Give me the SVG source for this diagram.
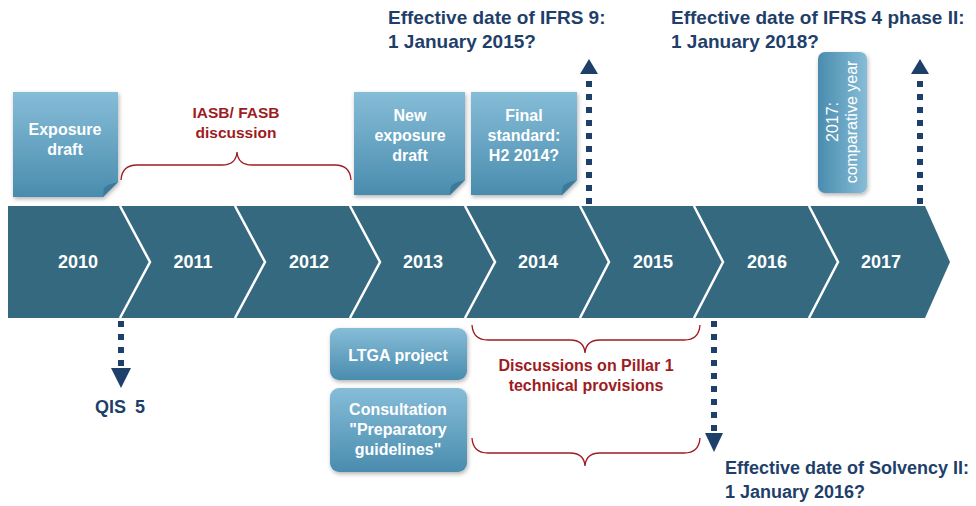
<svg xmlns="http://www.w3.org/2000/svg" width="976" height="506" viewBox="0 0 976 506">
<defs>
<linearGradient id="boxg" x1="0" y1="0" x2="0" y2="1">
<stop offset="0" stop-color="#86bdd8"/>
<stop offset="1" stop-color="#4a8cae"/>
</linearGradient>
<linearGradient id="boxr" x1="0" y1="0" x2="1" y2="0">
<stop offset="0" stop-color="#4a8cae"/>
<stop offset="1" stop-color="#86bdd8"/>
</linearGradient>
<filter id="sh" x="-10%" y="-10%" width="130%" height="130%">
<feDropShadow dx="1" dy="2" stdDeviation="2" flood-color="#000" flood-opacity="0.3"/>
</filter>
</defs>
<style>
.yr{font-family:"Liberation Sans",Arial,sans-serif;font-weight:bold;font-size:18px;fill:#fff;text-anchor:middle}
.bx{font-family:"Liberation Sans",Arial,sans-serif;font-weight:bold;font-size:16px;fill:#fff;text-anchor:middle}
.red{font-family:"Liberation Sans",Arial,sans-serif;font-weight:bold;font-size:15.5px;fill:#9e1b22;text-anchor:middle}
.nav{font-family:"Liberation Sans",Arial,sans-serif;font-weight:bold;font-size:19px;fill:#1f3f6b}
.brace{fill:none;stroke:#9e1b22;stroke-width:1.3}
.dots{fill:none;stroke:#1f3f6b;stroke-width:6;stroke-dasharray:6 7}
.sep{fill:none;stroke:#fff;stroke-width:2.5}
</style>

<g id="timeline">
<polygon points="8,206 925,206 950,262 925,318 8,318" fill="#35697f"/>
<polyline class="sep" points="120,206 150,262 120,318"/>
<polyline class="sep" points="235,206 265,262 235,318"/>
<polyline class="sep" points="350,206 380,262 350,318"/>
<polyline class="sep" points="465,206 495,262 465,318"/>
<polyline class="sep" points="580,206 609,262 580,318"/>
<polyline class="sep" points="694,206 723,262 694,318"/>
<polyline class="sep" points="809,206 838,262 809,318"/>
<text class="yr" x="78" y="268">2010</text>
<text class="yr" x="193" y="268">2011</text>
<text class="yr" x="309" y="268">2012</text>
<text class="yr" x="423" y="268">2013</text>
<text class="yr" x="538" y="268">2014</text>
<text class="yr" x="653" y="268">2015</text>
<text class="yr" x="767" y="268">2016</text>
<text class="yr" x="881" y="268">2017</text>
</g>

<g id="exposure-draft">
<path d="M13,92 H118 V182 L103,197 H13 Z" fill="url(#boxg)" filter="url(#sh)"/>
<path d="M103,197 L118,182 Q108,184 104,188 Q103,192 103,197 Z" fill="#3d7a9a"/>
<text class="bx" x="65" y="135">Exposure</text>
<text class="bx" x="65" y="155">draft</text>
</g>

<g id="iasb-fasb">
<text class="red" x="236" y="118">IASB/ FASB</text>
<text class="red" x="236" y="138">discussion</text>
</g>

<g id="new-exposure-draft">
<path d="M354,92 H465 V180 L450,195 H354 Z" fill="url(#boxg)" filter="url(#sh)"/>
<path d="M450,195 L465,180 Q455,182 451,186 Q450,190 450,195 Z" fill="#3d7a9a"/>
<text class="bx" x="410" y="121">New</text>
<text class="bx" x="410" y="141">exposure</text>
<text class="bx" x="410" y="161">draft</text>
</g>

<g id="final-standard">
<path d="M471,92 H577 V180 L562,195 H471 Z" fill="url(#boxg)" filter="url(#sh)"/>
<path d="M562,195 L577,180 Q567,182 563,186 Q562,190 562,195 Z" fill="#3d7a9a"/>
<text class="bx" x="524" y="121">Final</text>
<text class="bx" x="524" y="141">standard:</text>
<text class="bx" x="524" y="161">H2 2014?</text>
</g>

<g id="ifrs9">
<text class="nav" x="388" y="24">Effective date of IFRS 9:</text>
<text class="nav" x="388" y="48">1 January 2015?</text>
</g>

<g id="ifrs4">
<text class="nav" x="671" y="24">Effective date of IFRS 4 phase II:</text>
<text class="nav" x="671" y="48">1 January 2018?</text>
</g>

<g id="comparative-year">
<rect x="818" y="52" width="49" height="141" rx="7" fill="url(#boxr)" filter="url(#sh)"/>
<text font-family="Liberation Sans,Arial,sans-serif" font-size="16" fill="#fff" text-anchor="middle" transform="translate(842,122) rotate(-90)"><tspan x="0" y="-4">2017:</tspan><tspan x="0" y="15">comparative year</tspan></text>
</g>

<g id="qis5">
<text class="nav" x="120" y="413" style="text-anchor:middle;font-size:18px;word-spacing:4px">QIS 5</text>
</g>

<g id="ltga">
<rect x="330" y="328" width="137" height="52" rx="9" fill="url(#boxg)" filter="url(#sh)"/>
<text class="bx" x="398" y="361">LTGA project</text>
</g>

<g id="consultation">
<rect x="330" y="388" width="137" height="84" rx="9" fill="url(#boxg)" filter="url(#sh)"/>
<text class="bx" x="398" y="415">Consultation</text>
<text class="bx" x="398" y="435">"Preparatory</text>
<text class="bx" x="398" y="455">guidelines"</text>
</g>

<g id="pillar1">
<text class="red" x="586" y="371" style="font-size:16px">Discussions on Pillar 1</text>
<text class="red" x="586" y="391" style="font-size:16px">technical provisions</text>
</g>

<g id="solvency">
<text class="nav" x="725" y="474" style="font-size:18px">Effective date of Solvency II:</text>
<text class="nav" x="725" y="498" style="font-size:18px">1 January 2016?</text>
</g>

<g id="connectors">
<path class="brace" d="M121,180 Q122,165 137,165 H222 Q236,165 237,152 Q238,165 252,165 H335 Q350,165 351,180"/>
<path class="brace" d="M472,325 Q473,340 488,340 H570 Q584,340 585,353 Q586,340 600,340 H684 Q699,340 700,325"/>
<path class="brace" d="M472,438 Q473,453 488,453 H570 Q584,453 585,466 Q586,453 600,453 H684 Q699,453 700,438"/>
<line class="dots" x1="589" y1="204" x2="589" y2="74"/>
<polygon points="589,59 580,74 598,74" fill="#1f3f6b"/>
<line class="dots" x1="920" y1="204" x2="920" y2="74"/>
<polygon points="920,59 911,74 929,74" fill="#1f3f6b"/>
<line class="dots" x1="121" y1="321" x2="121" y2="368"/>
<polygon points="121,388 111,368 131,368" fill="#1f3f6b"/>
<line class="dots" x1="714" y1="321" x2="714" y2="433"/>
<polygon points="714,452 705,433 723,433" fill="#1f3f6b"/>
</g>
</svg>
